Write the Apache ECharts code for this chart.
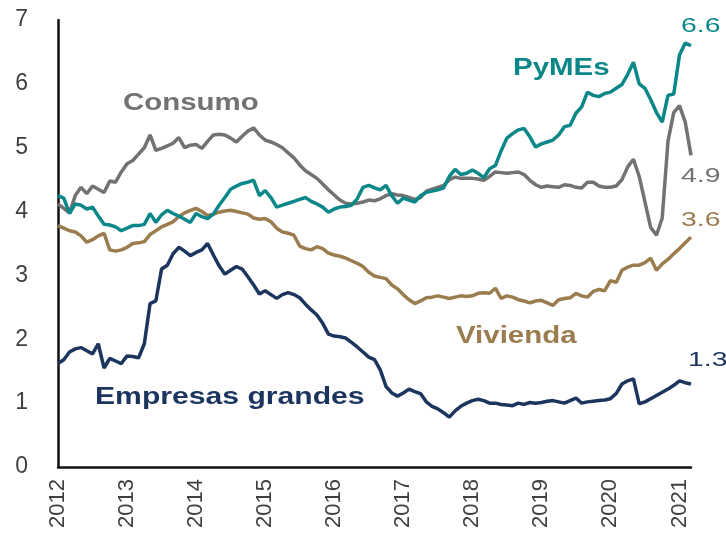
<!DOCTYPE html>
<html lang="es">

<head>
    <meta charset="UTF-8">
    <title>Crédito</title>
    <script src="https://cdn.jsdelivr.net/npm/echarts@6/dist/echarts.min.js"></script>
    <style>
        html, body { margin: 0; padding: 0; background: #fff; }
        #main { width: 726px; height: 535px; }
    </style>
</head>

<body>
    <div id="main"></div>
    <script>
        // datos mensuales ene-2012 .. mar-2021
        var consumo = [
            4.12, 4.05, 3.98, 4.25, 4.38, 4.28, 4.40, 4.35, 4.30, 4.48,
            4.46, 4.62, 4.75, 4.80, 4.90, 5.00, 5.20, 4.96, 4.99, 5.03,
            5.07, 5.16, 5.00, 5.04, 5.05, 4.99, 5.10, 5.20, 5.21, 5.20,
            5.15, 5.09, 5.18, 5.26, 5.31, 5.20, 5.12, 5.09, 5.05, 5.00,
            4.92, 4.84, 4.73, 4.64, 4.58, 4.52, 4.43, 4.34, 4.26, 4.18,
            4.13, 4.12, 4.13, 4.15, 4.18, 4.17, 4.20, 4.25, 4.28, 4.26,
            4.25, 4.22, 4.19, 4.22, 4.32, 4.35, 4.38, 4.41, 4.50, 4.54,
            4.52, 4.52, 4.52, 4.51, 4.49, 4.55, 4.62, 4.61, 4.60, 4.61,
            4.62, 4.58, 4.49, 4.42, 4.38, 4.40, 4.39, 4.38, 4.42, 4.41,
            4.38, 4.37, 4.46, 4.46, 4.40, 4.38, 4.38, 4.40, 4.50, 4.70,
            4.82, 4.55, 4.15, 3.75, 3.63, 3.90, 5.10, 5.55, 5.66, 5.40, 4.88
        ];
        var pymes = [
            4.25, 4.21, 3.97, 4.12, 4.10, 4.04, 4.07, 3.93, 3.80, 3.79,
            3.76, 3.70, 3.74, 3.78, 3.78, 3.80, 3.97, 3.83, 3.95, 4.02,
            3.97, 3.93, 3.88, 3.83, 3.97, 3.92, 3.89, 3.96, 4.10, 4.22,
            4.35, 4.40, 4.44, 4.46, 4.49, 4.25, 4.33, 4.22, 4.07, 4.10,
            4.13, 4.16, 4.19, 4.22, 4.16, 4.12, 4.07, 3.99, 4.04, 4.07,
            4.08, 4.10, 4.20, 4.38, 4.41, 4.37, 4.34, 4.41, 4.25, 4.13,
            4.21, 4.18, 4.15, 4.25, 4.30, 4.32, 4.34, 4.37, 4.55, 4.66,
            4.58, 4.60, 4.65, 4.60, 4.53, 4.67, 4.72, 4.95, 5.15, 5.22,
            5.28, 5.30, 5.17, 5.01, 5.06, 5.09, 5.12, 5.20, 5.33, 5.35,
            5.54, 5.64, 5.87, 5.82, 5.80, 5.85, 5.87, 5.93, 5.99, 6.15,
            6.34, 6.00, 5.93, 5.75, 5.55, 5.40, 5.82, 5.84, 6.45, 6.64, 6.60
        ];
        var vivienda = [
            3.78, 3.74, 3.70, 3.68, 3.62, 3.52, 3.56, 3.62, 3.66, 3.40,
            3.38, 3.40, 3.44, 3.50, 3.51, 3.53, 3.64, 3.70, 3.76, 3.80,
            3.84, 3.92, 3.98, 4.02, 4.05, 4.00, 3.94, 3.96, 3.99, 4.01,
            4.02, 4.00, 3.98, 3.96, 3.90, 3.88, 3.89, 3.84, 3.74, 3.68,
            3.66, 3.63, 3.46, 3.42, 3.40, 3.45, 3.42, 3.35, 3.32, 3.30,
            3.27, 3.23, 3.19, 3.14, 3.05, 2.99, 2.97, 2.95, 2.85, 2.79,
            2.70, 2.62, 2.56, 2.60, 2.65, 2.66, 2.68, 2.66, 2.64, 2.66,
            2.68, 2.67, 2.68, 2.72, 2.73, 2.72, 2.80, 2.64, 2.68, 2.66,
            2.62, 2.60, 2.57, 2.60, 2.61, 2.57, 2.53, 2.62, 2.64, 2.65,
            2.72, 2.68, 2.66, 2.75, 2.78, 2.76, 2.92, 2.89, 3.08, 3.13,
            3.16, 3.16, 3.20, 3.27, 3.08, 3.18, 3.25, 3.34, 3.42, 3.51, 3.60
        ];
        var grandes = [
            1.62, 1.68, 1.80, 1.85, 1.87, 1.82, 1.77, 1.93, 1.55, 1.70,
            1.66, 1.62, 1.74, 1.73, 1.71, 1.93, 2.56, 2.60, 3.10, 3.16,
            3.34, 3.44, 3.38, 3.31, 3.36, 3.40, 3.50, 3.32, 3.15, 3.02,
            3.08, 3.14, 3.10, 2.98, 2.85, 2.71, 2.76, 2.70, 2.64, 2.70,
            2.73, 2.70, 2.65, 2.55, 2.46, 2.38, 2.25, 2.08, 2.05, 2.04,
            2.02, 1.95, 1.88, 1.80, 1.72, 1.68, 1.52, 1.26, 1.16, 1.11,
            1.16, 1.22, 1.18, 1.15, 1.02, 0.95, 0.91, 0.85, 0.78, 0.88,
            0.95, 1.00, 1.04, 1.06, 1.04, 1.00, 1.00, 0.98, 0.97, 0.96,
            1.00, 0.98, 1.01, 1.00, 1.01, 1.03, 1.04, 1.02, 1.00, 1.04,
            1.08, 1.00, 1.02, 1.03, 1.04, 1.05, 1.07, 1.15, 1.30, 1.35,
            1.38, 0.99, 1.02, 1.07, 1.12, 1.17, 1.22, 1.28, 1.35, 1.32, 1.30
        ];
        var yTicks = [0, 1, 2, 3, 4, 5, 6, 7];

        // categorias: meses
        var meses = [];
        for (var i = 0; i < consumo.length; i++) {
            var y = 2012 + Math.floor(i / 12);
            var m = (i % 12) + 1;
            meses.push(y + '-' + (m < 10 ? '0' + m : m));
        }

        var cGris = '#727272',
            cTeal = '#0b878a',
            cTan = '#9a7c4f',
            cNavy = '#1c355e';
        var fam = '"Liberation Sans", Arial, sans-serif';

        function etiqueta(txt, x, y, color, bold, size, sx) {
            return {
                type: 'text',
                x: x,
                y: y,
                scaleX: sx,
                z: 10,
                style: {
                    text: txt,
                    fill: color,
                    font: (bold ? 'bold ' : '') + size + 'px ' + fam,
                    textAlign: 'left',
                    textVerticalAlign: 'middle'
                }
            };
        }

        function serie(nombre, datos, color) {
            return {
                name: nombre,
                type: 'line',
                data: datos,
                symbol: 'none',
                smooth: false,
                lineStyle: { color: color, width: 3.5 },
                itemStyle: { color: color }
            };
        }

        var myChart = echarts.init(document.getElementById('main'));
        var option = {
            animation: false,
            backgroundColor: '#fff',
            grid: { left: 58, right: 35, top: 20, bottom: 68, containLabel: false },
            xAxis: {
                type: 'category',
                data: meses,
                boundaryGap: false,
                axisLine: { lineStyle: { color: '#111', width: 2.5 } },
                axisTick: { show: false },
                axisLabel: {
                    interval: 11,
                    rotate: 90,
                    margin: 12,
                    color: '#404040',
                    fontSize: 22,
                    fontFamily: fam,
                    formatter: function (v) { return v.slice(0, 4); }
                },
                splitLine: { show: false }
            },
            yAxis: {
                type: 'value',
                min: yTicks[0],
                max: yTicks[yTicks.length - 1],
                interval: 1,
                axisLine: { show: true, lineStyle: { color: '#111', width: 2.5 } },
                axisTick: { show: false },
                axisLabel: { margin: 30, color: '#404040', fontSize: 23, fontFamily: fam },
                splitLine: { show: false }
            },
            series: [
                serie('Vivienda', vivienda, cTan),
                serie('Empresas grandes', grandes, cNavy),
                serie('Consumo', consumo, cGris),
                serie('PyMEs', pymes, cTeal)
            ],
            graphic: [
                etiqueta('Consumo', 123, 104, cGris, true, 23, 1.28),
                etiqueta('PyMEs', 513, 69, cTeal, true, 23, 1.28),
                etiqueta('Vivienda', 456, 337, cTan, true, 23, 1.28),
                etiqueta('Empresas grandes', 95, 398, cNavy, true, 23, 1.31),
                etiqueta(pymes[pymes.length - 1].toFixed(1), 681, 26, cTeal, false, 21, 1.35),
                etiqueta(consumo[consumo.length - 1].toFixed(1), 681, 176, cGris, false, 21, 1.35),
                etiqueta(vivienda[vivienda.length - 1].toFixed(1), 681, 220, cTan, false, 21, 1.35),
                etiqueta(grandes[grandes.length - 1].toFixed(1), 688, 360, cNavy, false, 21, 1.35)
            ]
        };
        myChart.setOption(option);
    </script>
</body>

</html>
